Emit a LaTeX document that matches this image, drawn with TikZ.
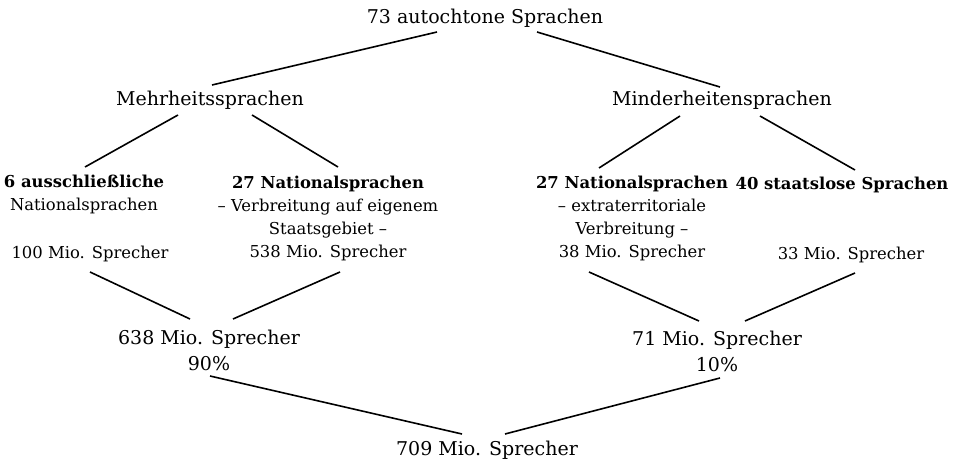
\documentclass[tikz,border=0pt]{standalone}
\usepackage{fontspec}
\setmainfont{DejaVu Serif}
\usetikzlibrary{calc}
\tikzset{
  big/.style={font=\fontsize{19}{26}\selectfont, align=center, inner sep=0pt},
  small/.style={font=\fontsize{16.4}{23}\selectfont, align=center, inner sep=0pt},
  conn/.style={line width=1.6pt}
}
\begin{document}
\begin{tikzpicture}[x=1pt,y=-1pt]
\useasboundingbox (0,0) rectangle (974,460);
\node[big] (top) at (485,18) {73 autochtone Sprachen};
\node[big] (mehr) at (210,100) {Mehrheitssprachen};
\node[big] (minder) at (722,100) {Minderheitensprachen};
\node[small] (a1) at (84,194) {\textbf{6 ausschließliche}\\Nationalsprachen};
\node[small] (a1s) at (90,254) {100 Mio. Sprecher};
\node[small] (a2) at (328,218) {\textbf{27 Nationalsprachen}\\– Verbreitung auf eigenem\\Staatsgebiet –\\538 Mio. Sprecher};
\node[small] (b1) at (632,218) {\textbf{27 Nationalsprachen}\\– extraterritoriale\\Verbreitung –\\38 Mio. Sprecher};
\node[small] (b2) at (842,185) {\textbf{40 staatslose Sprachen}};
\node[small] (b2s) at (851,255) {33 Mio. Sprecher};
\node[big] (s638) at (209,350) {638 Mio. Sprecher\\90\%};
\node[big] (s71) at (717,351) {71 Mio. Sprecher\\10\%};
\node[big] (total) at (487,450) {709 Mio. Sprecher};

\draw[conn] ($(top)+(-48,14)$) -- ($(mehr)+(2,-15)$);
\draw[conn] ($(top)+(52,14)$) -- ($(minder)+(-2,-13)$);
\draw[conn] ($(mehr)+(-32,15)$) -- ($(a1)+(1,-27)$);
\draw[conn] ($(mehr)+(42,15)$) -- ($(a2)+(10,-51)$);
\draw[conn] ($(minder)+(-42,16)$) -- ($(b1)+(-33,-50)$);
\draw[conn] ($(minder)+(38,16)$) -- ($(b2)+(13,-15)$);
\draw[conn] ($(a1s)+(0,18)$) -- ($(s638)+(-19,-31)$);
\draw[conn] ($(a2)+(12,54)$) -- ($(s638)+(24,-31)$);
\draw[conn] ($(b1)+(-43,54)$) -- ($(s71)+(-18,-30)$);
\draw[conn] ($(b2s)+(4,18)$) -- ($(s71)+(28,-30)$);
\draw[conn] ($(s638)+(1,26)$) -- ($(total)+(-25,-16)$);
\draw[conn] ($(s71)+(3,27)$) -- ($(total)+(18,-16)$);
\end{tikzpicture}
\end{document}
